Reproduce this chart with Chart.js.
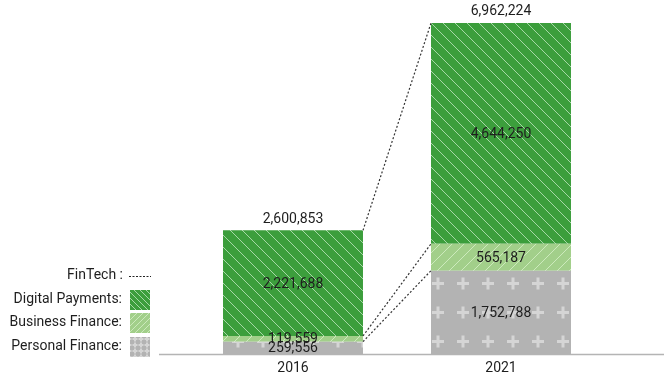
<!DOCTYPE html>
<html>
<head>
<meta charset="utf-8">
<script src="https://cdn.jsdelivr.net/npm/chart.js@4.4.1/dist/chart.umd.min.js"></script>
<style>
  html, body { margin: 0; padding: 0; background: #fff; overflow: hidden; }
  #fintechChart { display: block; }
</style>
</head>
<body>
<canvas id="fintechChart" width="664" height="378"></canvas>
<script>
// ---- data ----
const years = ['2016', '2021'];
const personalFinance = [259556, 1752788];
const businessFinance = [119559, 565187];
const digitalPayments = [2221688, 4644250];
const totals = [2600853, 6962224];   // as printed above the bars

const seriesNames = ['Personal Finance:', 'Business Finance:', 'Digital Payments:'];

const FONT = 'Roboto, "DejaVu Sans", sans-serif';
const textColor = '#1e1e1e';

// ---- fill patterns ----
function makePattern(w, h, draw) {
  const c = document.createElement('canvas');
  c.width = w; c.height = h;
  const g = c.getContext('2d');
  draw(g, w, h);
  return c.getContext('2d').createPattern(c, 'repeat');
}

// green with white "\" hatching
function digitalPattern(size) {
  return makePattern(size, size, (g, w, h) => {
    g.fillStyle = '#3c9e3c';
    g.fillRect(0, 0, w, h);
    g.strokeStyle = 'rgba(200,235,200,0.75)';
    g.lineWidth = 1;
    g.beginPath();
    g.moveTo(-1, -1); g.lineTo(w + 1, h + 1);
    g.moveTo(-1, h - 1); g.lineTo(1, h + 1);
    g.moveTo(w - 1, -1); g.lineTo(w + 1, 1);
    g.stroke();
  });
}

// light green with "/" hatching
function businessPattern(size) {
  return makePattern(size, size, (g, w, h) => {
    g.fillStyle = '#a2cf8a';
    g.fillRect(0, 0, w, h);
    g.strokeStyle = 'rgba(215,240,200,0.8)';
    g.lineWidth = 1;
    g.beginPath();
    g.moveTo(-1, h + 1); g.lineTo(w + 1, -1);
    g.moveTo(-1, 1); g.lineTo(1, -1);
    g.moveTo(w - 1, h + 1); g.lineTo(w + 1, h - 1);
    g.stroke();
  });
}

// grey with light plus signs
function personalPattern(w, h, cx, cy, arm, thick) {
  return makePattern(w, h, (g) => {
    g.fillStyle = '#b3b3b3';
    g.fillRect(0, 0, w, h);
    g.fillStyle = '#d5d5d5';
    g.fillRect(cx - arm / 2, cy - thick / 2, arm, thick);
    g.fillRect(cx - thick / 2, cy - arm / 2, thick, arm);
  });
}

const fills = [personalPattern(25, 29, 13, 22.5, 12, 3), businessPattern(12), digitalPattern(12)];
const swatchFills = [personalPattern(6, 6, 3, 3, 5, 2), businessPattern(6), digitalPattern(6)];

// ---- plugin: baseline, value labels, connectors, year labels, legend ----
const decorations = {
  id: 'decorations',
  afterDatasetsDraw(chart) {
    const ctx = chart.ctx;
    const area = chart.chartArea;
    const metas = [0, 1, 2].map(i => chart.getDatasetMeta(i));

    ctx.save();

    // baseline
    ctx.strokeStyle = '#b4b4b4';
    ctx.lineWidth = 1.5;
    ctx.beginPath();
    ctx.moveTo(159, area.bottom + 0.5);
    ctx.lineTo(664, area.bottom + 0.5);
    ctx.stroke();

    // dotted connectors between the bars
    ctx.strokeStyle = '#333';
    ctx.lineWidth = 1.2;
    ctx.setLineDash([2, 2]);
    metas.forEach((meta) => {
      const a = meta.data[0], b = meta.data[1];
      ctx.beginPath();
      ctx.moveTo(a.x + a.width / 2, a.y);
      ctx.lineTo(b.x - b.width / 2, b.y);
      ctx.stroke();
    });
    ctx.setLineDash([]);

    // segment values
    ctx.fillStyle = textColor;
    ctx.font = '14px ' + FONT;
    ctx.textAlign = 'center';
    ctx.textBaseline = 'middle';
    const values = [personalFinance, businessFinance, digitalPayments];
    metas.forEach((meta, di) => {
      meta.data.forEach((bar, i) => {
        const midY = (bar.y + bar.base) / 2;
        ctx.fillText(values[di][i].toLocaleString('en-US'), bar.x, midY + 1);
      });
    });

    // totals above bars + year labels
    const top = metas[2];
    top.data.forEach((bar, i) => {
      ctx.fillText(totals[i].toLocaleString('en-US'), bar.x, bar.y - 11);
      ctx.fillText(years[i], bar.x, area.bottom + 14);
    });

    // legend on the left
    ctx.textAlign = 'right';
    ctx.fillText('FinTech :', 123, 275);
    ctx.setLineDash([2, 1.5]);
    ctx.strokeStyle = '#222';
    ctx.lineWidth = 1;
    ctx.beginPath();
    ctx.moveTo(129, 276.5);
    ctx.lineTo(151, 276.5);
    ctx.stroke();
    ctx.setLineDash([]);

    const rows = [
      { label: seriesNames[2], y: 290, fill: swatchFills[2] },
      { label: seriesNames[1], y: 313, fill: swatchFills[1] },
      { label: seriesNames[0], y: 337, fill: swatchFills[0] },
    ];
    rows.forEach((r) => {
      ctx.fillStyle = r.fill;
      ctx.fillRect(130, r.y, 20, 20);
      ctx.fillStyle = textColor;
      ctx.fillText(r.label, 122, r.y + 9);
    });

    ctx.restore();
  }
};

new Chart(document.getElementById('fintechChart'), {
  type: 'bar',
  data: {
    labels: years,
    datasets: [
      { label: 'Personal Finance', data: personalFinance, backgroundColor: fills[0] },
      { label: 'Business Finance', data: businessFinance, backgroundColor: fills[1] },
      { label: 'Digital Payments', data: digitalPayments, backgroundColor: fills[2] },
    ],
  },
  options: {
    responsive: false,
    animation: false,
    devicePixelRatio: 1,
    layout: { padding: { left: 189, right: 59, top: 23, bottom: 24 } },
    datasets: { bar: { categoryPercentage: 1, barPercentage: 0.673, borderWidth: 0 } },
    plugins: { legend: { display: false }, tooltip: { enabled: false } },
    scales: {
      x: { stacked: true, display: false },
      y: { stacked: true, display: false, min: 0, max: 6962224 },
    },
  },
  plugins: [decorations],
});
</script>
</body>
</html>
